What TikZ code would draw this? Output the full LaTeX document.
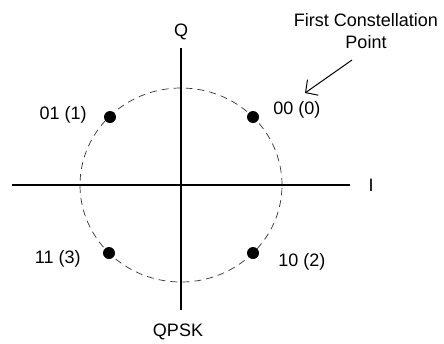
\documentclass[tikz,border=0pt]{standalone}
\usepackage{fontspec}
\setmainfont{Liberation Sans}
\usetikzlibrary{arrows.meta,positioning}
\tikzset{
  axis/.style={line width=1.6pt,color=black},
  ring/.style={dash pattern=on 7pt off 5pt,line width=0.7pt,color=black!80},
  dot/.style={circle,fill=black,minimum size=12pt,inner sep=0pt},
  lbl/.style={font=\fontsize{18}{22}\selectfont,inner sep=1pt,align=center},
  arr/.style={-{Straight Barb[length=9pt,width=19pt]},line width=1pt},
}
\begin{document}
\begin{tikzpicture}[x=1pt,y=-1pt]
\useasboundingbox (0,0) rectangle (444,343);
% axes
\coordinate (O) at (181,185);
\coordinate (west) at (12,185);
\coordinate (east) at (350,185);
\coordinate (north) at (181,48);
\coordinate (south) at (181,310);
\draw[ring] (O) ellipse [x radius=101pt,y radius=97pt];
\draw[axis] (west) -- (east);
\draw[axis] (north) -- (south);
\node[lbl] (ilbl) at (371,185) {I};
\node[lbl] (qlbl) at (181,32) {Q};
\node[lbl] (name) at (178,332) {QPSK};
% constellation points
\node[dot] (p0) at (253,117) {};
\node[dot] (p1) at (110,117) {};
\node[dot] (p2) at (253,253) {};
\node[dot] (p3) at (109,253) {};
\node[lbl,right=13pt of p0,yshift=7pt] (l0) {00 (0)};
\node[lbl,left=16pt of p1,yshift=2pt] (l1) {01 (1)};
\node[lbl,right=18pt of p2,yshift=-9pt] (l2) {10 (2)};
\node[lbl,left=21pt of p3,yshift=-6pt] (l3) {11 (3)};
% callout
\node[lbl] (first) at (366,31) {First Constellation\\Point};
\coordinate (from) at (352,60);
\coordinate (to) at (305,93);
\draw[arr] (from) -- (to);
\end{tikzpicture}
\end{document}
